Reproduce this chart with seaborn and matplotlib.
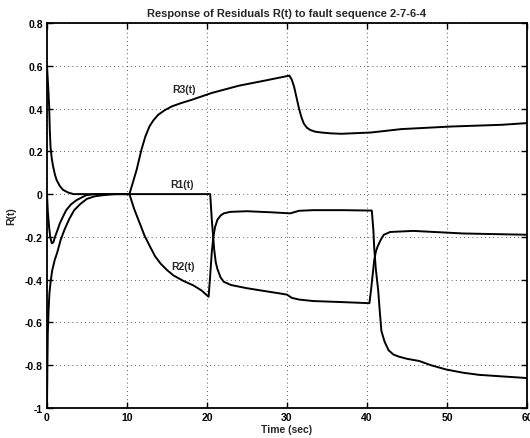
import matplotlib
matplotlib.use("Agg")
import matplotlib.pyplot as plt
import seaborn as sns
import pandas as pd

# ---- data ----
t_r1 = [0, 0.1, 0.25, 0.4, 0.6, 0.8, 1.0, 1.3, 1.6, 2.0, 2.4, 3.0, 3.7, 4.9, 6, 10,
        20.4, 20.6, 20.9, 21.1, 21.3, 21.7, 22.1, 23, 25, 27, 29.2, 30.0, 30.6, 31.5,
        33.3, 37, 40.3, 40.5, 40.7, 40.9, 41.1, 41.3, 41.7, 42.1, 42.9, 45.8, 52, 60]
r1 = [0, -0.08, -0.15, -0.2, -0.23, -0.225, -0.2, -0.17, -0.137, -0.105, -0.075,
      -0.048, -0.028, -0.005, 0, 0,
      0, -0.12, -0.26, -0.32, -0.35, -0.39, -0.41, -0.425, -0.44, -0.452, -0.465,
      -0.47, -0.485, -0.493, -0.5, -0.505, -0.51, -0.45, -0.38, -0.31, -0.27,
      -0.247, -0.215, -0.19, -0.177, -0.172, -0.184, -0.19]

t_r2 = [0, 0.05, 0.1, 0.2, 0.3, 0.45, 0.65, 0.95, 1.3, 1.7, 2.2, 2.8, 3.4, 4.2, 5, 6,
        7, 8.5, 10.3, 10.9, 11.6, 12.2, 12.9, 13.5, 14.2, 15.0, 15.8, 17, 18.3, 19.3,
        20.2, 20.4, 20.6, 20.8, 21.0, 21.3, 21.7, 22.1, 22.9, 25, 28, 30.4, 31.5, 33.3,
        37, 40.6, 40.8, 40.9, 41.1, 41.4, 41.6, 41.8, 42.2, 42.7, 43.3, 44, 45, 46.5,
        48, 49.9, 52, 54, 58, 60]
r2 = [-1, -0.8, -0.65, -0.54, -0.465, -0.41, -0.357, -0.31, -0.27, -0.215, -0.165,
      -0.115, -0.075, -0.045, -0.022, -0.01, -0.005, 0, 0, -0.07, -0.137, -0.195,
      -0.247, -0.29, -0.325, -0.355, -0.38, -0.405, -0.427, -0.45, -0.48, -0.38,
      -0.27, -0.2, -0.155, -0.12, -0.1, -0.09, -0.083, -0.08, -0.085, -0.09, -0.078,
      -0.075, -0.075, -0.077, -0.17, -0.25, -0.35, -0.45, -0.55, -0.64, -0.69,
      -0.73, -0.75, -0.76, -0.77, -0.78, -0.8, -0.82, -0.835, -0.845, -0.855, -0.86]

t_r3 = [0, 0.15, 0.27, 0.35, 0.44, 0.6, 0.77, 1.0, 1.2, 1.6, 2.0, 2.6, 3.3, 10.3, 10.7,
        11.2, 11.8, 12.3, 12.8, 13.3, 13.9, 14.7, 15.6, 16.8, 18.1, 20.6, 24, 27.4,
        30.3, 30.6, 30.9, 31.2, 31.5, 31.8, 32.1, 32.5, 32.9, 33.5, 34.3, 35.5, 36.8,
        40.5, 44.3, 50.5, 56.8, 60]
r3 = [0.6, 0.5, 0.41, 0.3, 0.22, 0.165, 0.128, 0.09, 0.066, 0.038, 0.02, 0.008, 0,
      0, 0.05, 0.113, 0.207, 0.27, 0.316, 0.345, 0.371, 0.392, 0.41, 0.426, 0.441,
      0.473, 0.507, 0.532, 0.554, 0.535, 0.5, 0.45, 0.4, 0.36, 0.33, 0.31, 0.3,
      0.292, 0.288, 0.284, 0.282, 0.288, 0.304, 0.316, 0.324, 0.332]

series_labels = ["R1(t)", "R2(t)", "R3(t)"]
label_pos_t = [16.9, 17.0, 17.1]
label_pos_r = [0.025, -0.36, 0.47]

x_ticks = [0, 10, 20, 30, 40, 50, 60]
y_ticks = [-1, -0.8, -0.6, -0.4, -0.2, 0, 0.2, 0.4, 0.6, 0.8]
y_tick_labels = ["-1", "-0.8", "-0.6", "-0.4", "-0.2", "0", "0.2", "0.4", "0.6", "0.8"]

title = "Response of Residuals R(t) to fault sequence 2-7-6-4"
xlabel = "Time (sec)"
ylabel = "R(t)"

# ---- build table ----
df = pd.concat([
    pd.DataFrame({"t": t_r1, "r": r1, "s": "R1"}),
    pd.DataFrame({"t": t_r2, "r": r2, "s": "R2"}),
    pd.DataFrame({"t": t_r3, "r": r3, "s": "R3"}),
], ignore_index=True)

sns.set_style("ticks")
plt.rcParams["font.family"] = ["Liberation Sans", "DejaVu Sans"]

fig = plt.figure(figsize=(5.3, 4.39), dpi=100)
ax = fig.add_axes([47 / 530, 1 - 409 / 439, 480 / 530, 385 / 439])

sns.lineplot(data=df, x="t", y="r", units="s", estimator=None, sort=False,
             color="black", linewidth=1.4, ax=ax, legend=False)

ax.set_xlim(0, 60)
ax.set_ylim(-1, 0.8)
ax.set_xticks(x_ticks)
ax.set_xticklabels([str(v) for v in x_ticks])
ax.set_yticks(y_ticks)
ax.set_yticklabels(y_tick_labels)

ax.grid(True, color="#222222", linestyle=(0, (1, 4)), linewidth=0.6)
for sp in ax.spines.values():
    sp.set_visible(True)
    sp.set_linewidth(1.3)
    sp.set_color("black")
ax.tick_params(direction="in", length=4, width=1, top=True, right=True,
               labelsize=7.5, colors="black", pad=3)
for lab in ax.get_xticklabels() + ax.get_yticklabels():
    lab.set_fontweight("bold")

for lab, tx, ty in zip(series_labels, label_pos_t, label_pos_r):
    ax.text(tx, ty, lab, ha="center", va="bottom", fontsize=7.5, fontweight="bold")

ax.set_title(title, fontsize=8, fontweight="bold", pad=5)
ax.set_xlabel(xlabel, fontsize=7.5, fontweight="bold", labelpad=1)
ax.set_ylabel(ylabel, fontsize=7.5, fontweight="bold", labelpad=6)

fig.savefig("out.png", dpi=100)
